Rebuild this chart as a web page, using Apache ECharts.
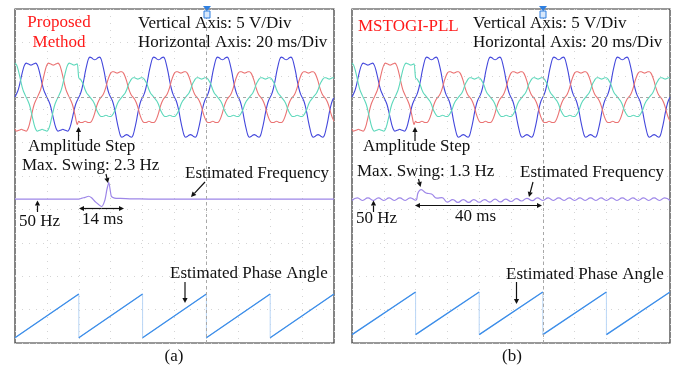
<!DOCTYPE html>
<html>
<head>
<meta charset="utf-8">
<script src="https://cdn.jsdelivr.net/npm/echarts@6/dist/echarts.min.js"></script>
<style>
  html, body { margin: 0; padding: 0; background: #fff; }
  #chart { width: 677px; height: 367px; }
</style>
</head>
<body>
<div id="chart"></div>
<script>
// three phase voltages (V), one sample every 0.5 ms, 0..100 ms; amplitude step at 20 ms
const SAMPLE_MS = 0.5;
const voltBlue = [
  0,0.5,1.1,2,3.1,4.1,4.8,5.1,5,4.9, 4.8,4.9,5,5.1,4.8,4.1,3.1,2,1.1,0.5,
  0,-0.5,-1.1,-2,-3.1,-4.1,-4.8,-5.1,-5,-4.9, -4.8,-4.9,-5,-5.1,-4.8,-4.1,-3.1,-2,-1.1,-0.5,
  0,0.5,1.3,2.4,3.7,4.8,5.7,6.0,5.9,5.7, 5.6,5.7,5.9,6.0,5.7,4.8,3.7,2.4,1.3,0.5,
  0,-0.5,-1.3,-2.4,-3.7,-4.8,-5.7,-6.0,-5.9,-5.7, -5.6,-5.7,-5.9,-6.0,-5.7,-4.8,-3.7,-2.4,-1.3,-0.5,
  0,0.5,1.3,2.4,3.7,4.8,5.7,6.0,5.9,5.7, 5.6,5.7,5.9,6.0,5.7,4.8,3.7,2.4,1.3,0.5,
  0,-0.5,-1.3,-2.4,-3.7,-4.8,-5.7,-6.0,-5.9,-5.7, -5.6,-5.7,-5.9,-6.0,-5.7,-4.8,-3.7,-2.4,-1.3,-0.5,
  0,0.5,1.3,2.4,3.7,4.8,5.7,6.0,5.9,5.7, 5.6,5.7,5.9,6.0,5.7,4.8,3.7,2.4,1.3,0.5,
  0,-0.5,-1.3,-2.4,-3.7,-4.8,-5.7,-6.0,-5.9,-5.7, -5.6,-5.7,-5.9,-6.0,-5.7,-4.8,-3.7,-2.4,-1.3,-0.5,
  0,0.5,1.3,2.4,3.7,4.8,5.7,6.0,5.9,5.7, 5.6,5.7,5.9,6.0,5.7,4.8,3.7,2.4,1.3,0.5,
  0,-0.5,-1.3,-2.4,-3.7,-4.8,-5.7,-6.0,-5.9,-5.7, -5.6,-5.7,-5.9,-6.0,-5.7,-4.8,-3.7,-2.4,-1.3,-0.5,
  0
];
const voltRed = [
  -4.8,-5.1,-5,-4.9,-4.8,-4.9,-5,-5.1,-4.8,-4.1, -3.1,-2,-1.1,-0.5,0,0.5,1.1,2,3.1,4.1,
  4.8,5.1,5,4.9,4.8,4.9,5,5.1,4.8,4.1, 3.1,2,1.1,0.5,0,-0.5,-1.1,-2,-3.1,-4.1,
  -3.6,-3.8,-3.8,-3.7,-3.6,-3.7,-3.8,-3.8,-3.6,-3.1, -2.4,-1.5,-0.8,-0.3,0,0.3,0.8,1.5,2.4,3.1,
  3.6,3.8,3.8,3.7,3.6,3.7,3.8,3.8,3.6,3.1, 2.4,1.5,0.8,0.3,0,-0.3,-0.8,-1.5,-2.4,-3.1,
  -3.6,-3.8,-3.8,-3.7,-3.6,-3.7,-3.8,-3.8,-3.6,-3.1, -2.4,-1.5,-0.8,-0.3,0,0.3,0.8,1.5,2.4,3.1,
  3.6,3.8,3.8,3.7,3.6,3.7,3.8,3.8,3.6,3.1, 2.4,1.5,0.8,0.3,0,-0.3,-0.8,-1.5,-2.4,-3.1,
  -3.6,-3.8,-3.8,-3.7,-3.6,-3.7,-3.8,-3.8,-3.6,-3.1, -2.4,-1.5,-0.8,-0.3,0,0.3,0.8,1.5,2.4,3.1,
  3.6,3.8,3.8,3.7,3.6,3.7,3.8,3.8,3.6,3.1, 2.4,1.5,0.8,0.3,0,-0.3,-0.8,-1.5,-2.4,-3.1,
  -3.6,-3.8,-3.8,-3.7,-3.6,-3.7,-3.8,-3.8,-3.6,-3.1, -2.4,-1.5,-0.8,-0.3,0,0.3,0.8,1.5,2.4,3.1,
  3.6,3.8,3.8,3.7,3.6,3.7,3.8,3.8,3.6,3.1, 2.4,1.5,0.8,0.3,0,-0.3,-0.8,-1.5,-2.4,-3.1,
  -3.6
];
const voltGreen = [
  5.1,4.8,4.1,3.1,2,1.1,0.5,0,-0.5,-1.1, -2,-3.1,-4.1,-4.8,-5.1,-5,-4.9,-4.8,-4.9,-5,
  -5.1,-4.8,-4.1,-3.1,-2,-1.1,-0.5,0,0.5,1.1, 2,3.1,4.1,4.8,5.1,5,4.9,4.8,4.9,5,
  2.9,2.7,2.3,1.8,1.1,0.6,0.3,0,-0.3,-0.6, -1.1,-1.8,-2.3,-2.7,-2.9,-2.9,-2.8,-2.7,-2.8,-2.9,
  -2.9,-2.7,-2.3,-1.8,-1.1,-0.6,-0.3,0,0.3,0.6, 1.1,1.8,2.3,2.7,2.9,2.9,2.8,2.7,2.8,2.9,
  2.9,2.7,2.3,1.8,1.1,0.6,0.3,0,-0.3,-0.6, -1.1,-1.8,-2.3,-2.7,-2.9,-2.9,-2.8,-2.7,-2.8,-2.9,
  -2.9,-2.7,-2.3,-1.8,-1.1,-0.6,-0.3,0,0.3,0.6, 1.1,1.8,2.3,2.7,2.9,2.9,2.8,2.7,2.8,2.9,
  2.9,2.7,2.3,1.8,1.1,0.6,0.3,0,-0.3,-0.6, -1.1,-1.8,-2.3,-2.7,-2.9,-2.9,-2.8,-2.7,-2.8,-2.9,
  -2.9,-2.7,-2.3,-1.8,-1.1,-0.6,-0.3,0,0.3,0.6, 1.1,1.8,2.3,2.7,2.9,2.9,2.8,2.7,2.8,2.9,
  2.9,2.7,2.3,1.8,1.1,0.6,0.3,0,-0.3,-0.6, -1.1,-1.8,-2.3,-2.7,-2.9,-2.9,-2.8,-2.7,-2.8,-2.9,
  -2.9,-2.7,-2.3,-1.8,-1.1,-0.6,-0.3,0,0.3,0.6, 1.1,1.8,2.3,2.7,2.9,2.9,2.8,2.7,2.8,2.9,
  2.9
];

// estimated frequency (Hz), proposed method
const freqTimeA = [0, 20, 21, 22, 23, 24, 25.3, 27.2, 28.2, 28.8, 29.4, 30.2, 31.2, 33, 36, 42, 50, 100];
const freqA     = [50, 50, 50.15, 50.25, 50.4, 50.2, 49.6, 49.0, 49.9, 51.3, 52.3, 50.4, 50.15, 50.1, 50.05, 50.02, 50, 50];

// estimated frequency (Hz), MSTOGI-PLL
const freqTimeB = [0,1.7,3.3,5,6.7,8.3,10,11.7,13.3,15,16.7,18.3,20,20.8,21.7,23.3,25,26.7,28.3,30,
  31.7,33.3,35,36.7,38.3,40,41.7,43.3,45,46.7,48.3,50,51.7,53.3,55,56.7,58.3,60,61.7,63.3,
  65,66.7,68.3,70,71.7,73.3,75,76.7,78.3,80,81.7,83.3,85,86.7,88.3,90,91.7,93.3,95,96.7,98.3,100];
const freqB = [49.82,50.18,49.82,50.18,49.82,50.18,49.82,50.18,49.82,50.18,49.82,50.18,49.85,50.9,51.3,50.85,50.7,50.15,50.2,49.6,
  49.95,49.55,49.95,49.55,49.95,49.58,49.95,49.6,50.0,49.62,50.02,49.68,50.08,49.75,50.12,49.8,50.18,49.82,50.18,49.82,
  50.18,49.82,50.18,49.82,50.18,49.82,50.18,49.82,50.18,49.82,50.18,49.82,50.18,49.82,50.18,49.82,50.18,49.82,50.18,49.82,50.18,49.82];

// estimated phase angle (rad)
const angleTime = [0, 20, 20, 40, 40, 60, 60, 80, 80, 100];
const angleRad  = [0, 6.28, 0, 6.28, 0, 6.28, 0, 6.28, 0, 6.28];

const TRIGGER_MS = 60;
const FONT = '"Liberation Serif", "Times New Roman", serif';

const timeMs = voltBlue.map((_, i) => i * SAMPLE_MS);
const pairs = (xs, ys) => xs.map((x, i) => [x, ys[i]]);
// ramps only: break the line where the angle wraps back to zero
const rampData = [];
angleTime.forEach((t, i) => {
  if (i > 0 && t === angleTime[i - 1]) rampData.push([t, '-']);
  rampData.push([t, angleRad[i]]);
});

const chart = echarts.init(document.getElementById('chart'));

const grids = [
  { left: 15, right: 343, top: 9, bottom: 24 },
  { left: 352, right: 7, top: 9, bottom: 24 }
];
const phaseRange = [[-0.76, 47.23], [-1.22, 47.9]];
const dotGrid = { show: true, lineStyle: { color: '#d4d4d4', type: [1, 6], width: 1 } };

const xAxes = [], yAxes = [], series = [];
grids.forEach((g, p) => {
  xAxes.push({
    type: 'value', gridIndex: p, min: 0, max: 100, interval: 10,
    axisLine: { show: false }, axisTick: { show: false }, axisLabel: { show: false },
    splitLine: dotGrid
  });
  const hidden = { gridIndex: p, type: 'value', show: false, splitLine: { show: false } };
  yAxes.push(Object.assign({ min: -36.8, max: 13.2 }, hidden));          // voltage
  yAxes.push(Object.assign({ min: 30.3, max: 76.05 }, hidden));          // frequency
  yAxes.push(Object.assign({ min: phaseRange[p][0], max: phaseRange[p][1] }, hidden)); // angle
  yAxes.push({
    gridIndex: p, type: 'value', min: 0, max: 10, interval: 1,
    axisLine: { show: false }, axisTick: { show: false }, axisLabel: { show: false },
    splitLine: dotGrid
  });
  const base = p * 4;
  const line = (data, yi, color, width, extra) => Object.assign({
    type: 'line', xAxisIndex: p, yAxisIndex: base + yi, data: data,
    showSymbol: false, silent: true, animation: false,
    lineStyle: { color: color, width: width }
  }, extra || {});
  series.push(line(pairs(timeMs, voltBlue), 0, '#4347dc', 1.1, {
    smooth: 0.3,
    markLine: {
      silent: true, symbol: 'none', label: { show: false },
      lineStyle: { color: '#a8a8a8', type: [3, 3], width: 1 },
      data: [{ xAxis: TRIGGER_MS }, { yAxis: 0 }]
    }
  }));
  series.push(line(pairs(timeMs, voltRed), 0, '#ea7272', 1.1, { smooth: 0.3 }));
  series.push(line(pairs(timeMs, voltGreen), 0, '#5dd8bb', 1.1, { smooth: 0.3 }));
  if (p === 0) {
    series.push(line(pairs(freqTimeA, freqA), 1, '#9d86e8', 1.2, { smooth: 0.2 }));
  } else {
    series.push(line(pairs(freqTimeB, freqB), 1, '#9d86e8', 1.2, { smooth: 0.5 }));
  }
  series.push(line(pairs(angleTime, angleRad), 2, '#b9d6f6', 1));
  series.push(line(rampData, 2, '#3d8ee9', 1.4));
});

function txt(x, y, s, opts) {
  return {
    type: 'text', x: x, y: y, z: 100,
    style: Object.assign({ text: s, font: '17px ' + FONT, fill: '#111', textVerticalAlign: 'middle' }, opts || {})
  };
}
function arrow(x1, y1, x2, y2) {
  const a = Math.atan2(y2 - y1, x2 - x1), h = 5, w = 2.6;
  const bx = x2 - h * Math.cos(a), by = y2 - h * Math.sin(a);
  return [
    { type: 'line', z: 100, shape: { x1: x1, y1: y1, x2: bx, y2: by }, style: { stroke: '#111', lineWidth: 1.2 } },
    { type: 'polygon', z: 100, shape: { points: [[x2, y2], [bx - w * Math.sin(a), by + w * Math.cos(a)], [bx + w * Math.sin(a), by - w * Math.cos(a)]] }, style: { fill: '#111' } }
  ];
}
function span(x1, x2, y) {
  const m = (x1 + x2) / 2;
  return arrow(m, y, x1, y).concat(arrow(m, y, x2, y));
}
function trigger(x) {
  return [
    { type: 'polygon', z: 100, shape: { points: [[x - 4, 6], [x + 4, 6], [x, 11]] }, style: { fill: '#2f7fe0' } },
    { type: 'rect', z: 100, shape: { x: x - 3, y: 11, width: 6, height: 7 }, style: { fill: '#d8e8fb', stroke: '#2f7fe0', lineWidth: 1 } }
  ];
}

const red = { fill: '#ff1a1a' };
const graphic = [].concat(
  // panel (a)
  [txt(59, 23, 'Proposed', Object.assign({ textAlign: 'center' }, red)),
   txt(59, 43, 'Method', Object.assign({ textAlign: 'center' }, red)),
   txt(138, 24, 'Vertical Axis: 5 V/Div'),
   txt(138, 43, 'Horizontal Axis: 20 ms/Div'),
   txt(28, 147, 'Amplitude Step'),
   txt(22, 166, 'Max. Swing: 2.3 Hz'),
   txt(185, 174, 'Estimated Frequency'),
   txt(19, 222, '50 Hz'),
   txt(82, 220, '14 ms'),
   txt(170, 274, 'Estimated Phase Angle'),
   txt(174, 357, '(a)', { textAlign: 'center' })],
  arrow(78.5, 141, 78.5, 127),
  arrow(106, 174, 108, 183),
  arrow(205, 182, 191, 197),
  arrow(37.5, 212, 37.5, 200.5),
  span(79, 124, 208.5),
  arrow(185, 282, 185, 303),
  trigger(207),
  // panel (b)
  [txt(358, 27, 'MSTOGI-PLL', red),
   txt(473, 24, 'Vertical Axis: 5 V/Div'),
   txt(473, 43, 'Horizontal Axis: 20 ms/Div'),
   txt(363, 147, 'Amplitude Step'),
   txt(357, 172, 'Max. Swing: 1.3 Hz'),
   txt(520, 173, 'Estimated Frequency'),
   txt(356, 219, '50 Hz'),
   txt(455, 217, '40 ms'),
   txt(506, 275, 'Estimated Phase Angle'),
   txt(512, 357, '(b)', { textAlign: 'center' })],
  arrow(415, 141, 415, 127),
  arrow(418.5, 179, 420.5, 187),
  arrow(533, 182, 529, 197),
  arrow(373.5, 212, 373.5, 200.5),
  span(415, 542, 205.5),
  arrow(516.5, 282, 516.5, 304),
  trigger(543)
);

chart.setOption({
  animation: false,
  grid: grids.map(g => Object.assign({ show: true, borderColor: '#333', borderWidth: 1.2, backgroundColor: '#fff' }, g)),
  xAxis: xAxes,
  yAxis: yAxes,
  series: series,
  graphic: graphic
});
</script>
</body>
</html>
